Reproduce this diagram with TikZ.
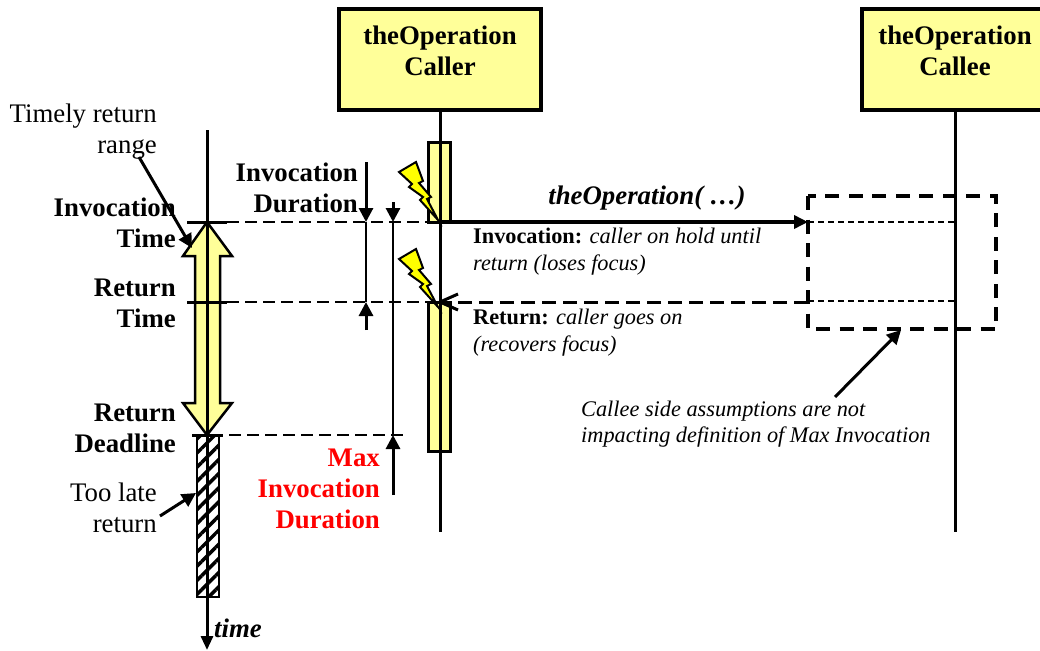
\documentclass[tikz,border=0pt]{standalone}
\usepackage{fontspec}
\setmainfont{Liberation Serif}
\usepackage{tikz}
\usetikzlibrary{arrows.meta,patterns.meta}
\definecolor{paleyellow}{HTML}{FFFF99}
\definecolor{boltyellow}{HTML}{FFFF00}
\tikzset{
  textbig/.style={inner sep=0pt,font=\fontsize{26.8}{31}\selectfont},
  textbold/.style={textbig,font=\fontsize{26.8}{31}\selectfont\bfseries,align=right,anchor=east},
  textsmall/.style={inner sep=0pt,anchor=west,align=left,font=\fontsize{22.3}{26.5}\selectfont\itshape},
  lifeline/.style={line width=3pt},
  headbox/.style={draw,line width=3.5pt,fill=paleyellow,minimum width=202pt,minimum height=101pt,inner sep=0pt,align=center,font=\fontsize{26.8}{31}\selectfont\bfseries},
  activebar/.style={draw,line width=3pt,fill=paleyellow},
  tickline/.style={line width=3pt},
  guide/.style={line width=2pt,dash pattern=on 12pt off 6pt},
  thinguide/.style={line width=1.6pt,dash pattern=on 6pt off 4pt},
  measure/.style={line width=1.6pt},
  pointer/.style={line width=3pt,-{Triangle[length=14pt,width=14pt]}},
  bolt/.style={draw,line width=2pt,fill=boltyellow},
}
\begin{document}
\begin{tikzpicture}[x=1pt,y=-1pt]
\useasboundingbox (0,0) rectangle (1040,650);
% head boxes and life lines
\coordinate (callertop) at (440,110);
\coordinate (callerend) at (440,532);
\coordinate (calleetop) at (955,110);
\coordinate (calleeend) at (955,532);
\draw[lifeline] (callertop)--(callerend);
\draw[lifeline] (calleetop)--(calleeend);
\node[headbox] (caller) at (440,59.5) {theOperation\\Caller\\[-13pt]\mbox{}};
\node[headbox] (callee) at (963,59.5) {\hspace*{-16pt}theOperation\\\hspace*{-16pt}Callee\\[-13pt]\mbox{}};
% activation bars
\draw[activebar] (428,142) rectangle (450,222);
\draw[activebar] (428,302) rectangle (450,451);
\draw[lifeline] (440,140)--(440,455);
% time axis
\coordinate (timetop) at (207,130);
\coordinate (timeend) at (207,650);
\coordinate (invcaller) at (440,222);
\coordinate (retcaller) at (440,302);
\coordinate (invcallee) at (955,222);
\coordinate (retcallee) at (955,301);
% timely range
\draw[line width=2.5pt,fill=paleyellow,line join=miter] (207,222)--(232,256)--(220,256)--(220,403)--(232,403)--(207,435)--(183,403)--(195,403)--(195,256)--(183,256)--cycle;
% too late range
\draw[line width=2pt,pattern={Lines[angle=45,distance=10pt,line width=3.5pt]}] (197,435) rectangle (219,597);
\draw[line width=3pt,-{Triangle[length=14pt,width=12pt]}] (timetop)--(timeend);
\draw[tickline] (187,222)--(227,222);
\draw[tickline] (187,302)--(227,302);
\draw[tickline] (192,435)--(223,435);
% dashed guides
\draw[guide] (227,222)--(invcaller);
\draw[guide] (227,302)--(retcaller);
\draw[guide] (229,435)--(407,435);
% durations
\coordinate (invdurtop) at (366,162);
\coordinate (invdurhi) at (366,222);
\coordinate (invdurlo) at (366,302);
\coordinate (invdurend) at (366,330);
\coordinate (maxdurtop) at (393,202);
\coordinate (maxdurhi) at (393,222);
\coordinate (maxdurlo) at (393,435);
\coordinate (maxdurend) at (393,495);
\draw[pointer] (invdurtop)--(invdurhi);
\draw[measure] (invdurhi)--(invdurlo);
\draw[pointer] (invdurend)--(invdurlo);
\draw[pointer] (maxdurtop)--(maxdurhi);
\draw[measure] (maxdurhi)--(maxdurlo);
\draw[pointer] (maxdurend)--(maxdurlo);
% bolts
\foreach \shift in {0,87}{
  \draw[bolt,yshift=-\shift pt] (399,172)--(416,162)--(423,181)--(419,183)--(431,197)--(427,199)--(438,220)--(420,200)--(423,197)--(409,187)--(412,184)--cycle;
}
% messages
\coordinate (invbox) at (808,222);
\coordinate (retbox) at (808,302);
\coordinate (barbup) at (458,294);
\coordinate (barbdown) at (458,310);
\draw[line width=3.5pt,-{Triangle[length=14pt,width=13pt]}] (invcaller)--(invbox);
\draw[line width=3pt,dash pattern=on 14pt off 7pt] (retbox)--(retcaller);
\draw[line width=3pt] (barbup)--(retcaller)--(barbdown);
\draw[thinguide] (invbox)--(invcallee);
\draw[thinguide] (808,301)--(retcallee);
\draw[line width=3.5pt,dash pattern=on 14pt off 9.5pt] (808,196) rectangle (996,329);
% labels
\node[textbig,align=right,anchor=north east] (timely) at (157,104) {Timely return\\range};
\node[textbig,align=right,anchor=north east] (toolate) at (157,483) {Too late\\return};
\node[textbold] (invlabel) at (176,223) {Invocation\\Time};
\node[textbold] (retlabel) at (176,303) {Return\\Time};
\node[textbold] (deadlabel) at (176,428) {Return\\Deadline};
\node[textbold] (invdurlabel) at (358,188) {Invocation\\Duration};
\node[textbold,text=red] (maxlabel) at (380,489) {Max\\Invocation\\Duration};
\node[textbig,font=\fontsize{26.8}{31}\selectfont\bfseries\itshape] (oplabel) at (647,198) {theOperation( …)};
\node[textsmall] (invnote) at (473,251.5) {\textbf{\upshape Invocation:} caller on hold until\\return (loses focus)};
\node[textsmall] (retnote) at (473,332.5) {\textbf{\upshape Return:} caller goes on\\(recovers focus)};
\node[textsmall] (calleenote) at (581,424) {Callee side assumptions are not\\impacting definition of Max Invocation};
\node[textbig,anchor=west,font=\fontsize{26.8}{28}\selectfont\bfseries\itshape] (timelabel) at (214,628) {time};
% pointers
\coordinate (timelyend) at (192,248);
\coordinate (timelystart) at (139,157);
\coordinate (toolateend) at (196,493);
\coordinate (toolatestart) at (160,516);
\coordinate (notestart) at (835,397);
\coordinate (noteend) at (901,330);
\draw[pointer] (timelystart)--(timelyend);
\draw[pointer] (toolatestart)--(toolateend);
\draw[pointer] (notestart)--(noteend);
\end{tikzpicture}
\end{document}
